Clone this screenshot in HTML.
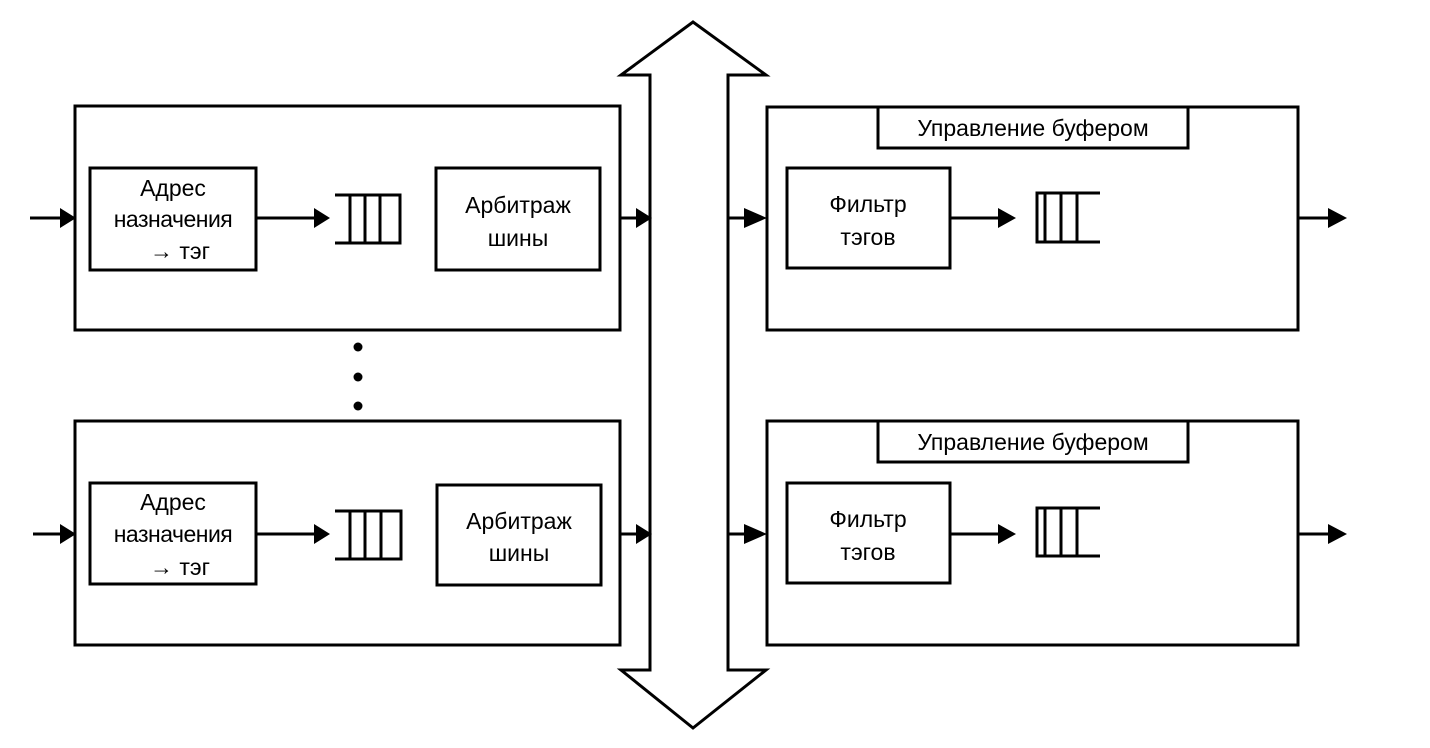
<!DOCTYPE html>
<html><head><meta charset="utf-8"><style>
html,body{margin:0;padding:0;background:#fff;width:1430px;height:748px;overflow:hidden}
text{font-family:"Liberation Sans",sans-serif;font-size:23px;fill:#000;text-anchor:middle}
</style></head><body>
<svg width="1430" height="748" viewBox="0 0 1430 748" xmlns="http://www.w3.org/2000/svg">
<defs><marker id="a" markerWidth="10" markerHeight="10" refX="9" refY="5" orient="auto" markerUnits="userSpaceOnUse"><path d="M0,0 L0,0"/></marker></defs>
<g fill="none" stroke="#000" stroke-width="3">
<!-- bus arrow -->
<path d="M650,75 L621,75 L693,22 L766,75 L728,75 L728,670 L766,670 L693,728 L621,670 L650,670 Z" fill="#fff"/>
<!-- left boxes -->
<rect x="75" y="106" width="545" height="224"/>
<rect x="75" y="421" width="545" height="224"/>
<rect x="90" y="168" width="166" height="102"/>
<rect x="436" y="168" width="164" height="102"/>
<rect x="90" y="483" width="166" height="101"/>
<rect x="437" y="485" width="164" height="100"/>
<!-- queues left -->
<path d="M335,195 H400 V243 H335 M350,195 V243 M365,195 V243 M380,195 V243"/>
<path d="M335,511 H401 V559 H335 M350,511 V559 M365,511 V559 M381,511 V559"/>
<!-- right boxes -->
<rect x="767" y="107" width="531" height="223"/>
<rect x="767" y="421" width="531" height="224"/>
<rect x="878" y="107" width="310" height="41" fill="#fff"/>
<rect x="878" y="421" width="310" height="41" fill="#fff"/>
<rect x="787" y="168" width="163" height="100"/>
<rect x="787" y="483" width="163" height="100"/>
<path d="M1100,193 H1037 V242 H1100 M1045,193 V242 M1061,193 V242 M1077,193 V242"/>
<path d="M1100,508 H1037 V556 H1100 M1045,508 V556 M1061,508 V556 M1077,508 V556"/>
<!-- lines -->
<path d="M30,218 H62 M256,218 H316 M620,218 H640 M728,218 H748 M950,218 H1002 M1298,218 H1330"/>
<path d="M33,534 H62 M256,534 H316 M620,534 H640 M728,534 H748 M950,534 H1002 M1298,534 H1330"/>
</g>
<g fill="#000">
<path d="M60,208 L76,218 L60,228Z M314,208 L330,218 L314,228Z M636,208 L652,218 L636,228Z M744,208 L767,218 L744,228Z M998,208 L1016,218 L998,228Z M1328,208 L1347,218 L1328,228Z"/>
<path d="M60,524 L76,534 L60,544Z M314,524 L330,534 L314,544Z M636,524 L652,534 L636,544Z M744,524 L767,534 L744,544Z M998,524 L1016,534 L998,544Z M1328,524 L1347,534 L1328,544Z"/>
<circle cx="358" cy="347" r="4.5"/><circle cx="358" cy="377" r="4.5"/><circle cx="358" cy="406" r="4.5"/>
</g>
<text x="173" y="196">Адрес</text>
<text x="173" y="227" style="letter-spacing:-0.5px">назначения</text>
<text x="180" y="259">→ тэг</text>
<text x="518" y="213">Арбитраж</text>
<text x="518" y="246">шины</text>
<text x="173" y="510">Адрес</text>
<text x="173" y="542" style="letter-spacing:-0.5px">назначения</text>
<text x="180" y="575">→ тэг</text>
<text x="519" y="529">Арбитраж</text>
<text x="519" y="561">шины</text>
<text x="1033" y="136">Управление буфером</text>
<text x="1033" y="450">Управление буфером</text>
<text x="868" y="212">Фильтр</text>
<text x="868" y="245">тэгов</text>
<text x="868" y="527">Фильтр</text>
<text x="868" y="560">тэгов</text>
</svg>
</body></html>
